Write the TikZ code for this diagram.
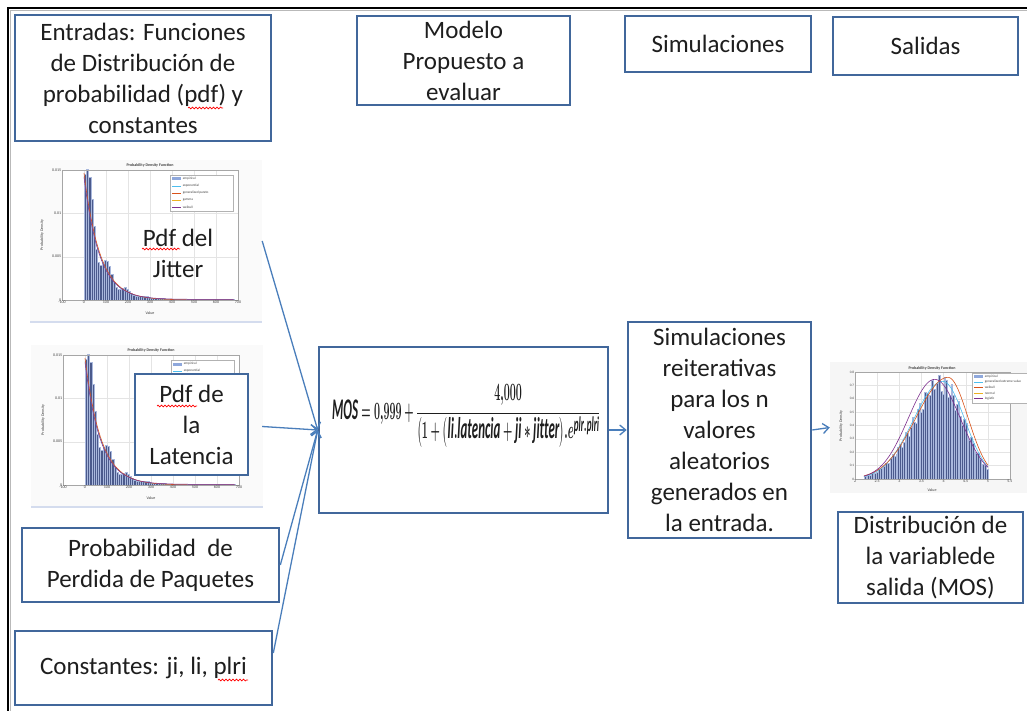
\documentclass[tikz,border=0pt]{standalone}
\usepackage{amsmath}
\usepackage{fontspec}
\setmainfont{Carlito}
\usepackage{graphicx}
\usetikzlibrary{arrows.meta,decorations.pathmorphing}
\definecolor{boxc}{HTML}{41679B}
\definecolor{arrc}{HTML}{4A7EBB}
\definecolor{barc}{HTML}{4B5A8C}
\definecolor{bare}{HTML}{A9B8DD}
\definecolor{gridc}{HTML}{E4E4E4}
\definecolor{txtc}{HTML}{1E1E1E}
\definecolor{mblue}{HTML}{4DBEEE}
\definecolor{morange}{HTML}{D95319}
\definecolor{myellow}{HTML}{EDB120}
\definecolor{mpurple}{HTML}{7E2F8E}
\definecolor{mpatch}{HTML}{8FA8DC}
\newcommand\tinyf{\fontsize{4}{4.5}\selectfont}
\newcommand\legentry[4]{% x y color text
  \draw[#3,line width=0.6pt] (#1,#2) -- ++(9,0);
  \node[ticklab,anchor=west,font=\fontsize{3.4}{4}\selectfont] at (#1+10,#2) {#4};}
% #1 = number of legend entries visible (2 or 5)
\newcommand\expplot[1]{%
  \fill[gray!4] (-32,-22) rectangle (200,140);
  \draw[bare!50,line width=2pt] (-32,-22) -- (200,-22);
  \fill[white] (0,0) rectangle (176,130);
  \foreach \gx in {22,44,...,154} {\draw[gridc,line width=0.3pt] (\gx,0) -- (\gx,130);}
  \foreach \gy in {43.33,86.67} {\draw[gridc,line width=0.3pt] (0,\gy) -- (176,\gy);}
  \foreach \v in {0,10,...,670} {%
    \pgfmathsetmacro\hh{125*exp(-\v/70)*(1+0.3*sin(\v*4.3))+0.6}
    \filldraw[fill=barc,draw=bare,line width=0.15pt] ({(\v+100)*0.22},0) rectangle ++(2.2,\hh);
  }
  \draw[mblue,line width=0.5pt] plot[domain=0:680,samples=70] ({(\x+100)*0.22},{124*exp(-\x/71)});
  \draw[morange,line width=0.6pt] plot[domain=0:680,samples=70] ({(\x+100)*0.22},{127*exp(-\x/72)});
  \draw[mpurple,line width=0.5pt] plot[domain=0:680,samples=70] ({(\x+100)*0.22},{122*exp(-\x/70)+0.6});
  \draw[gray!70,line width=0.4pt] (0,0) rectangle (176,130);
  \foreach \t [count=\i from 0] in {-100,0,100,200,300,400,500,600,700} {\node[ticklab,below] at (\i*22,0) {\t};}
  \foreach \t [count=\i from 0] in {0,0.005,0.01,0.015} {\node[ticklab,left] at (0,\i*43.33) {\t};}
  \node[ticklab,font=\tinyf\bfseries] at (88,135) {Probability Density Function};
  \node[ticklab,rotate=90] at (-20,65) {Probability Density};
  \node[ticklab] at (88,-13) {Value};
  \filldraw[fill=white,draw=gray!60,line width=0.3pt] (108,89) rectangle (171,125);
  \fill[mpatch] (110,119.5) rectangle ++(9,3);
  \node[ticklab,anchor=west,font=\fontsize{3.4}{4}\selectfont] at (120,121) {empirical};
  \legentry{110}{114}{mblue}{exponential}
  \ifnum#1>2
  \legentry{110}{107}{morange}{generalized pareto}
  \legentry{110}{100}{myellow}{gamma}
  \legentry{110}{93}{mpurple}{weibull}
  \fi
}
\newcommand\normplot{%
  \fill[gray!7] (-25,-14) rectangle (172,117);
  \fill[white] (0,0) rectangle (155,107);
  \foreach \k in {1,...,6} {\draw[gridc,line width=0.3pt] (\k*22.14,0) -- (\k*22.14,107);}
  \foreach \k in {1,...,7} {\draw[gridc,line width=0.3pt] (0,\k*13.375) -- (155,\k*13.375);}
  \foreach \k in {0,...,69} {%
    \pgfmathsetmacro\v{2.2+\k*0.04}
    \pgfmathsetmacro\s{ifthenelse(\v<3.95,0.65,0.48)}
    \pgfmathsetmacro\hh{133.75*0.70*exp(-0.5*((\v-3.95)/\s)^2)*(1+0.12*sin(\k*97))+0.5}
    \filldraw[fill=barc,draw=bare,line width=0.15pt] ({(\v-2)*44.29},0) rectangle ++(1.77,\hh);
  }
  \draw[mblue,line width=0.6pt] plot[domain=2.2:5.0,samples=80] ({(\x-2)*44.29},{133.75*0.73*exp(-0.5*((\x-3.98)/ifthenelse(\x<3.98,0.66,0.5))^2)});
  \draw[morange,line width=0.6pt] plot[domain=2.2:5.0,samples=80] ({(\x-2)*44.29},{133.75*0.76*exp(-0.5*((\x-4.1)/ifthenelse(\x<4.1,0.72,0.45))^2)});
  \draw[mpurple,line width=0.6pt] plot[domain=2.2:5.0,samples=80] ({(\x-2)*44.29},{133.75*0.745*exp(-0.5*((\x-3.8)/ifthenelse(\x<3.8,0.6,0.58))^2)});
  \draw[gray!70,line width=0.4pt] (0,0) rectangle (155,107);
  \foreach \t [count=\i from 0] in {2,2.5,3,3.5,4,4.5,5,5.5} {\node[ticklab,below] at (\i*22.14,0) {\t};}
  \foreach \t [count=\i from 0] in {0,0.1,0.2,0.3,0.4,0.5,0.6,0.7,0.8} {\node[ticklab,left,font=\fontsize{3.4}{4}\selectfont] at (0,\i*13.375) {\t};}
  \node[ticklab,font=\tinyf\bfseries] at (77,111) {Probability Density Function};
  \node[ticklab,rotate=90] at (-14,53) {Probability Density};
  \node[ticklab] at (77,-11) {Value};
  \filldraw[fill=white,draw=gray!60,line width=0.3pt] (117,76) rectangle (175,106);
  \fill[mpatch] (119,101) rectangle ++(9,3);
  \node[ticklab,anchor=west,font=\fontsize{3.4}{4}\selectfont] at (129,102.5) {empirical};
  \legentry{119}{97}{mblue}{generalized extreme value}
  \legentry{119}{91.5}{morange}{weibull}
  \legentry{119}{86}{myellow}{normal}
  \legentry{119}{80.5}{mpurple}{logistic}
}
\begin{document}
\begin{tikzpicture}[x=1pt,y=-1pt,
  box/.style={draw=boxc,line width=2.6pt,fill=white,align=center,inner sep=0pt,text=txtc,font=\fontsize{25}{31}\selectfont},
  plain/.style={align=center,inner sep=0pt,text=txtc,font=\fontsize{25}{31}\selectfont},
  ticklab/.style={inner sep=0.6pt,text=black!75,font=\tinyf},
  imgframe/.style={inner sep=0pt},
  arr/.style={draw=arrc,line width=1.3pt,-{Straight Barb[length=6pt,width=10pt]}},
  wav/.style={draw=red,line width=0.7pt,decorate,decoration={snake,amplitude=0.9pt,segment length=3.5pt}}]
\useasboundingbox (0,0) rectangle (1027,711);
\fill[white] (0,0) rectangle (1027,711);
\draw[black,line width=1.6pt] (8,711) -- (8,8) -- (1027,8);
\draw[gray!55,line width=1pt] (10.8,711) -- (10.8,10.8) -- (1027,10.8);
% header boxes
\node[box,minimum width=256pt,minimum height=126pt] (entr) at (143,78) {Entradas: Funciones\\de Distribución de\\probabilidad (pdf) y\\constantes};
\node[box,minimum width=213pt,minimum height=89pt] (model) at (463.5,60.5) {Modelo\\Propuesto a\\evaluar};
\node[box,minimum width=186pt,minimum height=56pt] (simh) at (718,44) {Simulaciones};
\node[box,minimum width=185pt,minimum height=58pt] (salh) at (925.5,46) {Salidas};
% input plots
\begin{scope}[shift={(62,300)},yscale=-1] \expplot{5} \end{scope}
\node[imgframe,minimum width=232pt,minimum height=162pt] (jplot) at (146,241) {};
\node[plain] (jtxt) at (178,253) {Pdf del\\Jitter};
\begin{scope}[shift={(63,485)},yscale=-1] \expplot{2} \end{scope}
\node[imgframe,minimum width=232pt,minimum height=163pt] (lplot) at (146,426.5) {};
\node[box,minimum width=113pt,minimum height=101pt] (ltxt) at (191.5,424.5) {Pdf de\\la\\Latencia};
% other inputs
\node[box,minimum width=257pt,minimum height=74pt] (prob) at (150.5,565) {Probabilidad\ \ de\\Perdida de Paquetes};
\node[box,minimum width=257pt,minimum height=74pt] (const) at (143.5,668) {Constantes: ji, li, plri};
% model
\node[box,minimum width=289pt,minimum height=166pt] (form) at (463.5,430) {};
\node[inner sep=0pt,text=txtc] (formtxt) at (466,416) {\scalebox{0.43}[1]{\fontsize{30}{34}\selectfont\boldmath$\mathit{MOS}=\mathbf{0{,}999}+\dfrac{\text{\fontsize{38}{40}\selectfont$\mathbf{4{,}000}$}}{\bigl(\mathbf{1}+\bigl(\mathit{li.latencia}+\mathit{ji}*\mathit{jitter}\bigr).e^{\mathit{plr.plri}}}$}};
% simulation
\node[box,minimum width=183pt,minimum height=216pt] (sim) at (719.5,430) {Simulaciones\\reiterativas\\para los n\\valores\\aleatorios\\generados en\\la entrada.};
% output plot
\begin{scope}[shift={(855,479)},yscale=-1] \normplot \end{scope}
\node[imgframe,minimum width=197pt,minimum height=131pt] (oplot) at (928.5,427.5) {};
\node[box,minimum width=185pt,minimum height=91pt] (outtxt) at (930.5,557.5) {Distribución de\\la variablede\\salida (MOS)};
% connectors
\draw[arr] (jplot.east) -- (form.west);
\draw[arr] (lplot.east) -- (form.west);
\draw[arr] (prob.east) -- (form.west);
\draw[arr] ([yshift=15pt]const.east) -- (form.west);
\draw[arr] (form.east) -- (sim.west);
\draw[arr] (sim.east) -- (oplot.west);
% spell-check underlines
\draw[wav] (188,108) -- (223,108);
\draw[wav] (142,249) -- (180,249);
\draw[wav] (157,406) -- (197,406);
\draw[wav] (218,680) -- (248,680);
\end{tikzpicture}
\end{document}
